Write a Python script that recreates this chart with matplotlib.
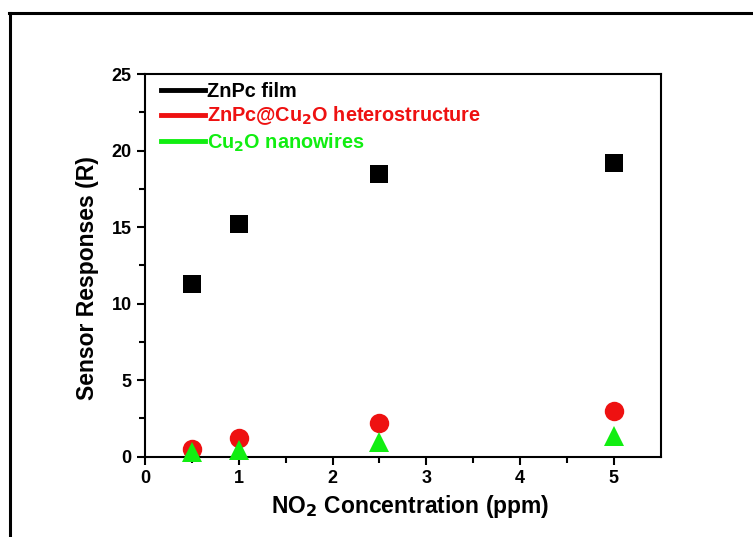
import matplotlib.pyplot as plt
from matplotlib.lines import Line2D

plt.rcParams['font.family'] = ['Liberation Sans', 'DejaVu Sans']
plt.rcParams['font.weight'] = 'bold'
plt.rcParams['mathtext.default'] = 'bf'

# NO2 concentration (ppm)
conc = [0.5, 1, 2.5, 5]
# sensor responses for each sample
znpc_film = [11.3, 15.2, 18.5, 19.2]
znpc_cu2o = [0.5, 1.2, 2.2, 3.0]
cu2o_wires = [0.3, 0.45, 0.95, 1.35]

series_names = ['ZnPc film', 'ZnPc@Cu$_2$O heterostructure', 'Cu$_2$O nanowires']
colors = ['black', '#ee1111', '#11ee11']
markers = ['s', 'o', '^']
sizes = [13, 14, 15]

fig = plt.figure(figsize=(7.53, 5.37), dpi=100)
ax = fig.add_axes([145 / 753, 1 - 456.7 / 537, (660.7 - 145) / 753, (456.7 - 74) / 537])

for ys, c, m, s in zip([znpc_film, znpc_cu2o, cu2o_wires], colors, markers, sizes):
    ax.plot(conc, ys, linestyle='none', marker=m, color=c, markersize=s,
            markeredgewidth=0, clip_on=False, zorder=3)

ax.set_xlim(0, 5.5)
ax.set_ylim(0, 25)
ax.set_xticks([0, 1, 2, 3, 4, 5])
ax.set_xticks([0.5, 1.5, 2.5, 3.5, 4.5], minor=True)
ax.set_yticks([0, 5, 10, 15, 20, 25])
ax.set_yticks([2.5, 7.5, 12.5, 17.5, 22.5], minor=True)
ax.tick_params(which='major', direction='out', length=6, width=1.5, labelsize=13)
ax.tick_params(which='minor', direction='out', length=4, width=1.5)
for lab in ax.get_xticklabels() + ax.get_yticklabels():
    lab.set_fontweight('bold')
for sp in ax.spines.values():
    sp.set_linewidth(1.5)

ax.set_xlabel('NO$_2$ Concentration (ppm)', fontsize=16.5, fontweight='bold')
ax.set_ylabel('Sensor Responses (R)', fontsize=16.5, fontweight='bold')
ax.xaxis.set_label_coords(0.514, -0.095)
ax.yaxis.set_label_coords(-0.09, 0.467)

handles = [Line2D([0], [0], color=c, linewidth=3.5) for c in colors]
leg = ax.legend(handles, series_names, loc='upper left', frameon=False,
                prop={'weight': 'bold', 'size': 14.3}, handlelength=2.2,
                handletextpad=0.1, labelspacing=0.2, borderaxespad=0.1,
                bbox_to_anchor=(0.012, 1.006))
for t, c in zip(leg.get_texts(), colors):
    t.set_color(c)

# outer frame of the cropped figure
fig.add_artist(Line2D([9 / 753, 752 / 753], [1 - 13 / 537, 1 - 13 / 537],
                      color='black', linewidth=2.2, transform=fig.transFigure))
fig.add_artist(Line2D([10 / 753, 10 / 753], [1 - 13 / 537, 0],
                      color='black', linewidth=2.2, transform=fig.transFigure))

fig.savefig('out.png', dpi=100)
